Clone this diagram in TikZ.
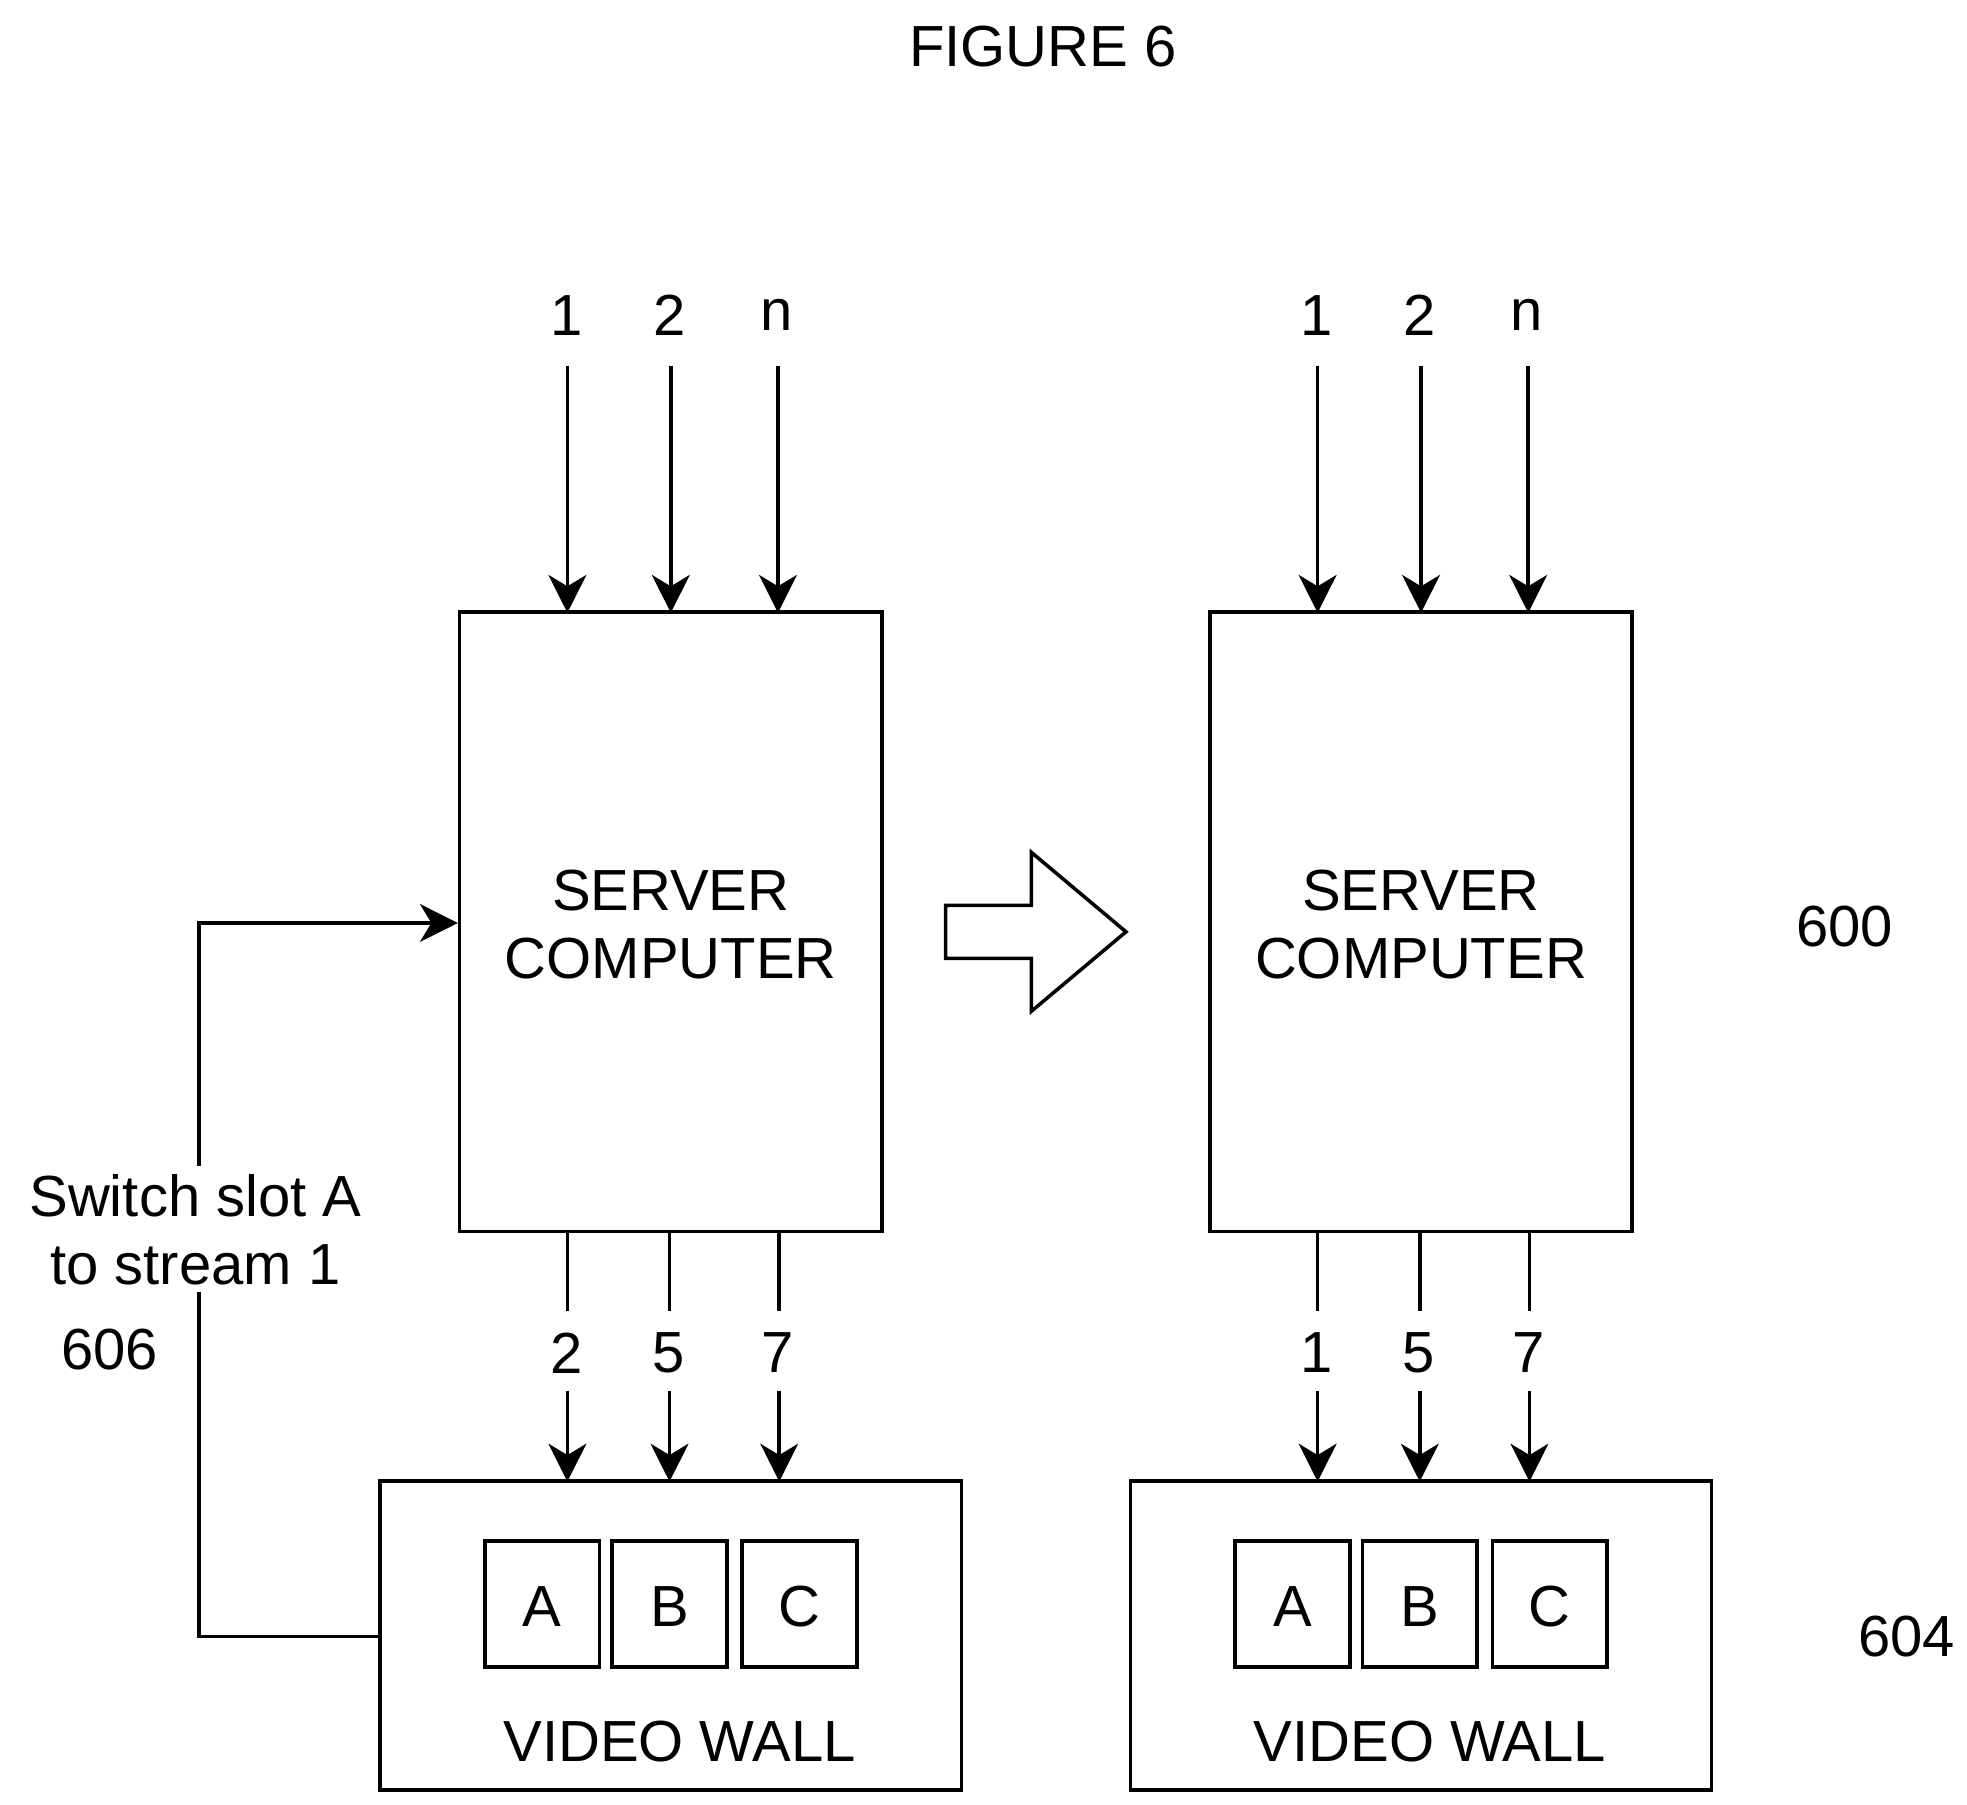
\documentclass[tikz,border=0pt]{standalone}
\usepackage{fontspec}
\setmainfont{Liberation Sans}
\usetikzlibrary{arrows.meta}
\begin{document}
\begin{tikzpicture}[x=1pt,y=-1pt,
  lw/.style={line width=2.8pt},
  box/.style={draw,lw,inner sep=0pt},
  txt/.style={font=\fontsize{46}{54}\selectfont,inner sep=0pt,align=center},
  arr/.style={lw,-{Stealth[length=30pt,width=30pt,inset=9pt]}}]
\useasboundingbox (0,0) rectangle (1560,1431);
\node[txt] (title) at (827,37) {FIGURE 6};
\foreach \s/\dx in {L/0,R/595}{
  \node[box,minimum width=335pt,minimum height=491pt] (srv\s) at (532+\dx,731) {};
  \node[txt] at (532+\dx,733) {SERVER\\COMPUTER};
  \node[box,minimum width=461pt,minimum height=245pt] (wall\s) at (532+\dx,1297) {};
  \node[txt] (vw\s) at (539+\dx,1381) {VIDEO WALL};
  \foreach \n/\x in {A/431,B/532,C/635}{
    \node[box,minimum width=91pt,minimum height=100pt] (\n\s) at (\x+\dx-1,1272) {};
    \node[txt] at (\x+\dx-1,1274) {\n};
  }
}
% inputs
\foreach \s/\dx in {L/0,R/595}{
  \foreach \l/\x in {1/450,2/532,n/617}{
    \node[txt] (in\s\l) at (\x+\dx-1,250) {\l};
    \coordinate (is\s\l) at (\x+\dx,290);
    \draw[arr] (is\s\l) -- (\x+\dx,486);
  }
}
% outputs
\foreach \s/\dx/\a in {L/0/2,R/595/1}{
  \foreach \l/\x in {\a/450,5/531,7/618}{
    \node[txt] (out\s\l) at (\x+\dx-1,1073) {\l};
    \draw[lw] (\x+\dx,977) -- (\x+\dx,1040);
    \draw[arr] (\x+\dx,1103) -- (\x+\dx,1175);
  }
}
% feedback
\draw[arr] (wallL.west|-0,1298) -- (158,1298) -- (158,732) -- (srvL.west|-0,732);
\node[txt,fill=white,inner sep=6pt] (lab) at (155,975) {Switch slot A\\to stream 1};
\node[txt,fill=white,inner sep=4pt] (n606) at (87,1070) {606};
% hollow arrow
\draw[lw] (750,718) -- (818,718) -- (818,676) -- (893,739) -- (818,802) -- (818,760) -- (750,760) -- cycle;
\node[txt] (n600) at (1463,735) {600};
\node[txt] (n604) at (1512,1298) {604};
\end{tikzpicture}
\end{document}
